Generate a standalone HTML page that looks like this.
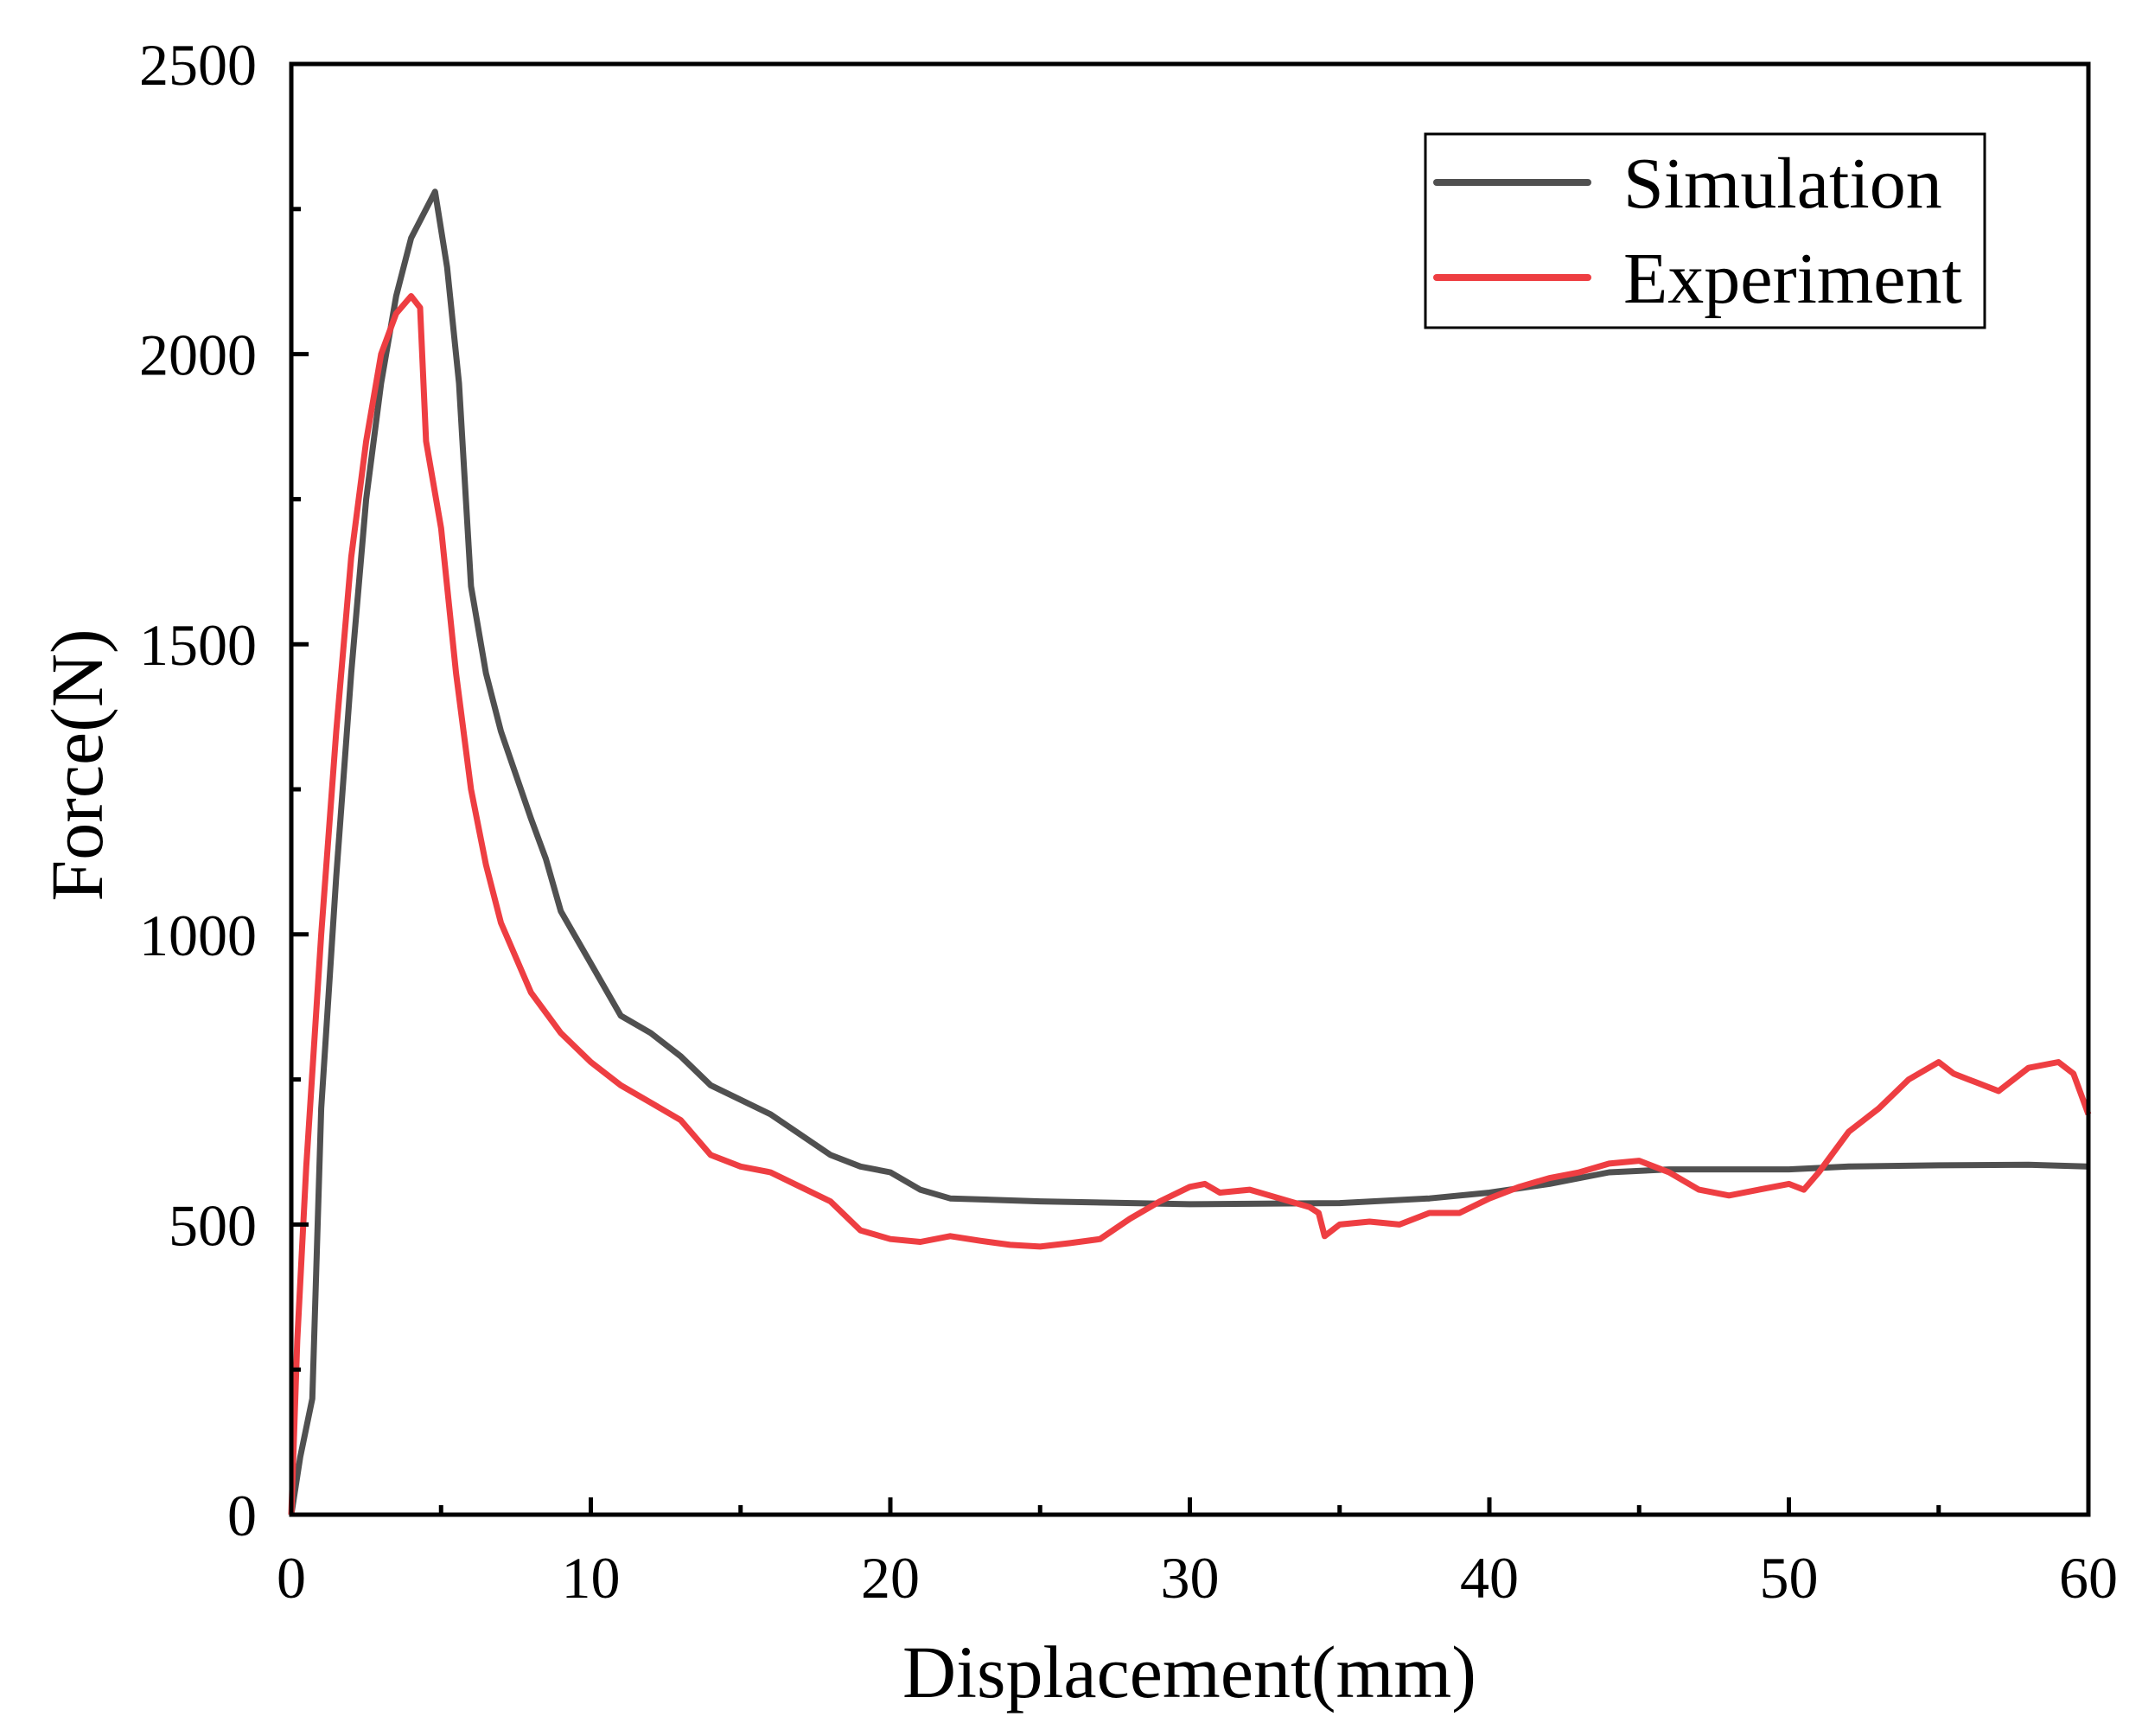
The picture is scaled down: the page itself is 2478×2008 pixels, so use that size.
<!DOCTYPE html>
<html><head><meta charset="utf-8">
<style>
html,body{margin:0;padding:0;background:#fff;}
svg{display:block;}
text{font-family:"Liberation Serif",serif;fill:#000;}
</style></head>
<body>
<svg id="chart" width="2478" height="2008" viewBox="0 0 2478 2008" xmlns="http://www.w3.org/2000/svg">
<g id="marks"></g>
<g id="axes"></g>
<g>
  <rect x="1649" y="155" width="647" height="224" fill="#fff" stroke="#000" stroke-width="3"/>
  <line x1="1662" y1="211" x2="1837" y2="211" stroke="#505050" stroke-width="8" stroke-linecap="round"/>
  <text x="1878" y="240" font-size="84">Simulation</text>
  <line x1="1662" y1="321" x2="1837" y2="321" stroke="#ee3e42" stroke-width="8" stroke-linecap="round"/>
  <text x="1878" y="350" font-size="84">Experiment</text>
</g>
<text x="1376" y="1963" font-size="86" text-anchor="middle">Displacement(mm)</text>
<text transform="translate(118,885) rotate(-90)" font-size="86" text-anchor="middle">Force(N)</text>
</svg>
<script>
const xTicks = [0,10,20,30,40,50,60];
const yTicks = [0,500,1000,1500,2000,2500];
const simX = [0,0.3,0.7,1,1.5,2,2.5,3,3.5,4,4.8,5.2,5.6,6,6.5,7,8,8.5,9,10,11,12,13,14,16,18,19,20,21,22,25,30,35,38,40,42,44,46,50,52,55,58,60];
const simY = [0,100,200,700,1100,1450,1750,1950,2100,2200,2280,2150,1950,1600,1450,1350,1200,1130,1040,950,860,830,790,740,690,620,600,590,560,545,540,535,537,545,555,570,590,595,595,600,602,603,600];
const expX = [0,0.2,0.5,1,1.5,2,2.5,3,3.5,4,4.3,4.5,5,5.5,6,6.5,7,8,9,10,11,12,13,14,15,16,17,18,19,20,21,22,23,24,25,26,27,28,29,30,30.5,31,32,33,34,34.3,34.5,35,36,37,38,39,40,41,42,43,44,45,46,47,48,49,50,50.5,51,52,53,54,55,55.5,56,57,58,59,59.5,60];
const expY = [0,300,600,1000,1350,1650,1850,2000,2070,2100,2080,1850,1700,1450,1250,1120,1020,900,830,780,740,710,680,620,600,590,565,540,490,475,470,480,472,465,462,468,475,510,540,565,570,555,560,545,530,520,480,500,505,500,520,520,545,565,580,590,605,610,590,560,550,560,570,560,590,660,700,750,780,760,750,730,770,780,760,690];

const X0=337, X1=2416, Y0=1752, Y1=74;
function sx(v){return X0+(v-0)/(60-0)*(X1-X0);}
function sy(v){return Y0-(v-0)/(2500-0)*(Y0-Y1);}
const NS="http://www.w3.org/2000/svg";
const marks=document.getElementById('marks');
const axes=document.getElementById('axes');
function mk(tag,attrs,parent){const e=document.createElementNS(NS,tag);for(const k in attrs)e.setAttribute(k,attrs[k]);parent.appendChild(e);return e;}
function series(xs,ys,color,name){
  let d='';
  for(let i=0;i<xs.length;i++){d+=(i?'L':'M')+sx(xs[i]).toFixed(1)+','+sy(ys[i]).toFixed(1);}
  const p=mk('path',{d:d,fill:'none',stroke:color,'stroke-width':7,'stroke-linejoin':'round'},marks);
  
  
}
series(simX,simY,'#505050','simulation-line');
series(expX,expY,'#ee3e42','experiment-line');

const frame=mk('rect',{x:X0,y:Y1,width:X1-X0,height:Y0-Y1,fill:'none',stroke:'#000','stroke-width':5},axes);


for(let i=0;i<xTicks.length;i++){
  const v=xTicks[i], x=sx(v);
  const t=mk('line',{x1:x,y1:Y0,x2:x,y2:Y0-20,stroke:'#000','stroke-width':5},axes);
  
  
  if(i<xTicks.length-1){const m=sx(v+5);
    const mt=mk('line',{x1:m,y1:Y0,x2:m,y2:Y0-11,stroke:'#000','stroke-width':5},axes);
    
    }
  const l=mk('text',{x:x,y:Y0+96,'font-size':68,'text-anchor':'middle'},axes);
  l.textContent=v;
  
  
}
for(let i=0;i<yTicks.length;i++){
  const v=yTicks[i], y=sy(v);
  const t=mk('line',{x1:X0,y1:y,x2:X0+20,y2:y,stroke:'#000','stroke-width':5},axes);
  
  
  if(i<yTicks.length-1){const m=sy(v+250);
    const mt=mk('line',{x1:X0,y1:m,x2:X0+11,y2:m,stroke:'#000','stroke-width':5},axes);
    
    }
  const l=mk('text',{x:X0-40,y:y+24,'font-size':68,'text-anchor':'end'},axes);
  l.textContent=v;
  
  
}
</script>
</body></html>
